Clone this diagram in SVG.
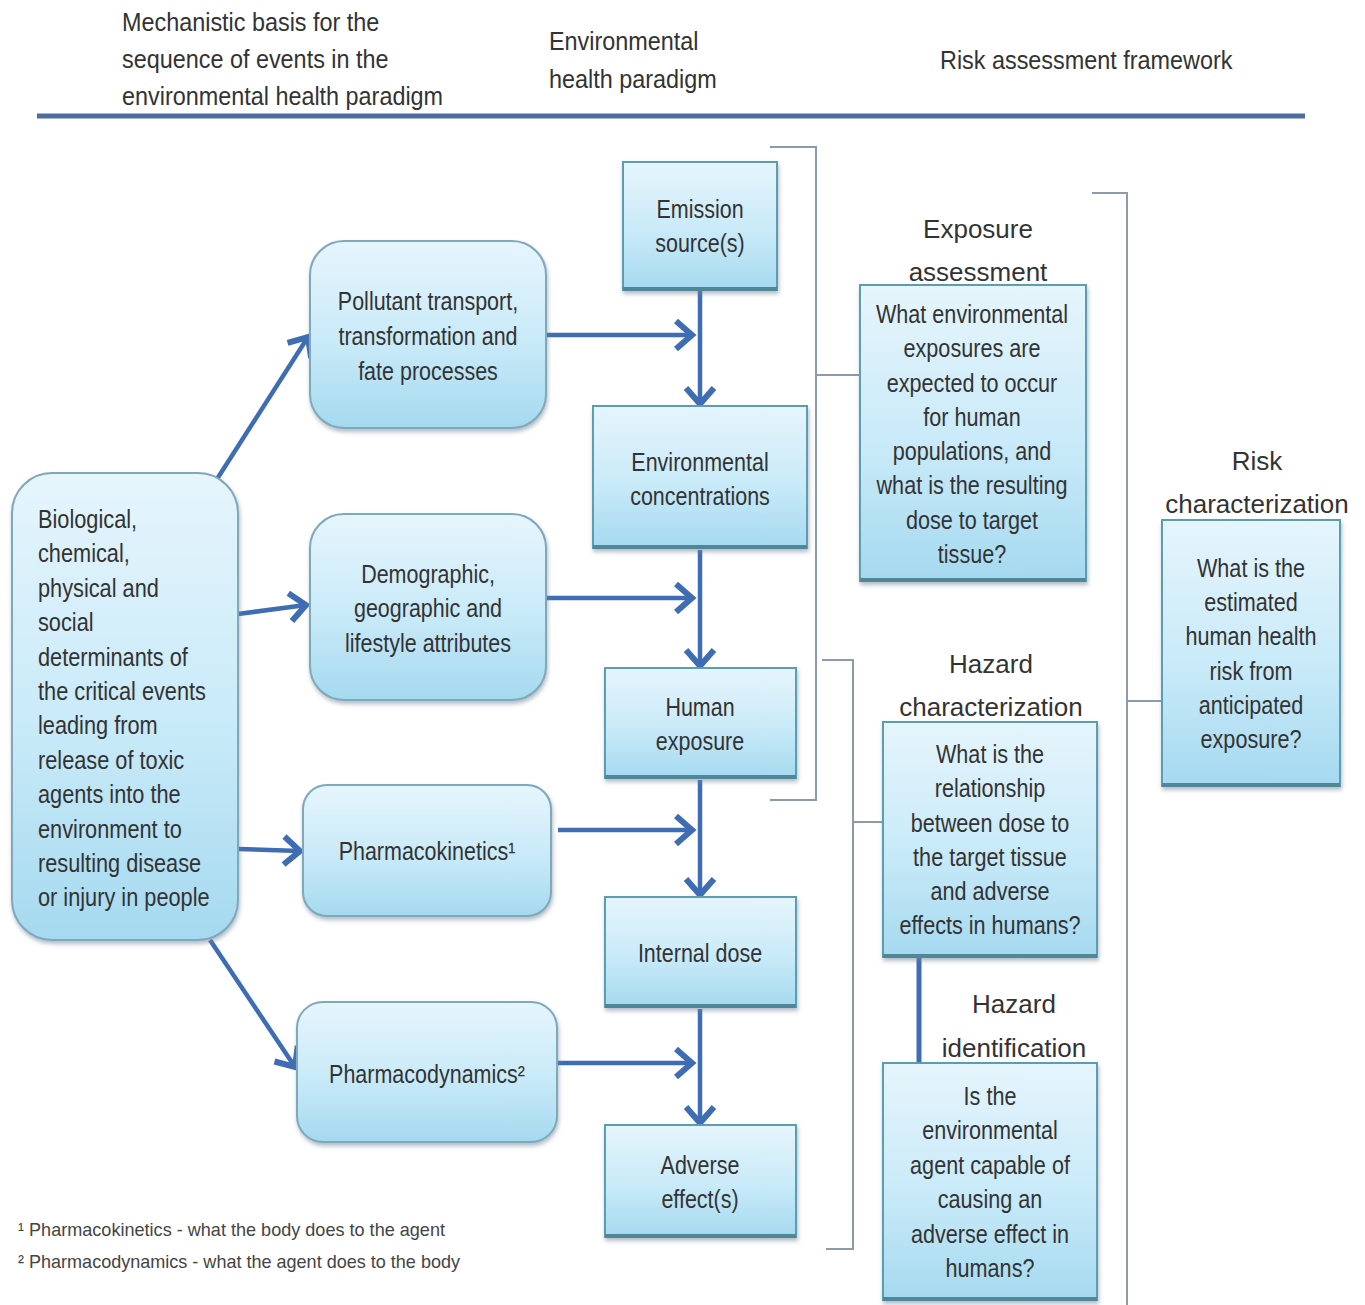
<svg xmlns="http://www.w3.org/2000/svg" width="1365" height="1305" viewBox="0 0 1365 1305">
  <defs>
    <linearGradient id="fillBlue" x1="0" y1="0" x2="0" y2="1">
      <stop offset="0" stop-color="#e6f5fc"/>
      <stop offset="0.55" stop-color="#c8eaf8"/>
      <stop offset="1" stop-color="#a5d9ef"/>
    </linearGradient>
    <filter id="soft" x="-10%" y="-10%" width="120%" height="125%">
      <feDropShadow dx="1" dy="3" stdDeviation="2" flood-color="#6f8596" flood-opacity="0.55"/>
    </filter>
    <marker id="chev" viewBox="-24 -20 32 40" refX="0" refY="0" markerWidth="32" markerHeight="40" markerUnits="userSpaceOnUse" orient="auto">
      <path d="M-16,-14 L0,0 L-16,14" fill="none" stroke="#3f6db3" stroke-width="6"/>
    </marker>
    <style>
      .round { fill: url(#fillBlue); stroke: #7fa8bb; stroke-width: 2; filter: url(#soft); }
      .sq { fill: url(#fillBlue); stroke: #5d9db2; stroke-width: 2; filter: url(#soft); }
      .sqbase { fill: none; stroke: #4f8799; stroke-width: 4; }
      .bx { font-family: "Liberation Sans", Arial, sans-serif; font-size: 25px; fill: #333333; }
      .hd { font-family: "Liberation Sans", Arial, sans-serif; font-size: 26px; fill: #333333; }
      .ttl { font-family: "Liberation Sans", Arial, sans-serif; font-size: 26px; fill: #333333; text-anchor: middle; }
      .fn { font-family: "Liberation Sans", Arial, sans-serif; font-size: 19px; fill: #444444; }
      .arrow { fill: none; stroke: #3f6db3; stroke-width: 4.5; marker-end: url(#chev); }
      .link { fill: none; stroke: #3f6db3; stroke-width: 5; }
      .brk { fill: none; stroke: #8c9aab; stroke-width: 2; }
    </style>
  </defs>

  <rect width="1365" height="1305" fill="#ffffff"/>

  <!-- column headings -->
  <g id="headings">
    <text class="hd" transform="translate(122,31) scale(0.9,1)"><tspan x="0" dy="0">Mechanistic basis for the</tspan><tspan x="0" dy="37">sequence of events in the</tspan><tspan x="0" dy="37">environmental health paradigm</tspan></text>
    <text class="hd" transform="translate(549,50) scale(0.9,1)"><tspan x="0" dy="0">Environmental</tspan><tspan x="0" dy="38">health paradigm</tspan></text>
    <text class="hd" transform="translate(940,69) scale(0.9,1)">Risk assessment framework</text>
    <line x1="37" y1="116" x2="1305" y2="116" stroke="#4a6e9e" stroke-width="5"/>
  </g>

  <!-- connectors -->
  <g id="connectors">
    <!-- determinants to mechanisms -->
    <line class="arrow" x1="210" y1="490" x2="308" y2="337"/>
    <line class="arrow" x1="238" y1="614" x2="306" y2="605"/>
    <line class="arrow" x1="238" y1="849" x2="300" y2="851"/>
    <line class="arrow" x1="210" y1="940" x2="295" y2="1067"/>
    <!-- mechanisms into paradigm chain -->
    <line class="arrow" x1="546" y1="335" x2="692" y2="335"/>
    <line class="arrow" x1="546" y1="598" x2="692" y2="598"/>
    <line class="arrow" x1="558" y1="830" x2="692" y2="830"/>
    <line class="arrow" x1="558" y1="1063" x2="692" y2="1063"/>
    <!-- paradigm chain -->
    <line class="arrow" x1="700" y1="291" x2="700" y2="404"/>
    <line class="arrow" x1="700" y1="550" x2="700" y2="666"/>
    <line class="arrow" x1="700" y1="780" x2="700" y2="895"/>
    <line class="arrow" x1="700" y1="1009" x2="700" y2="1123"/>
    <!-- hazard characterization to identification -->
    <line class="link" x1="919" y1="958" x2="919" y2="1063"/>
    <!-- brackets -->
    <path class="brk" d="M770,147 H816 V800 H770 M816,375 H860"/>
    <path class="brk" d="M822,660 H853 V1249 H826 M853,822 H884"/>
    <path class="brk" d="M1092,193 H1127 V1305 M1127,701 H1162"/>
  </g>

  <!-- determinants -->
  <g id="determinants">
    <rect class="round" x="12" y="473" width="226" height="467" rx="40"/>
    <text class="bx" transform="translate(38,528) scale(0.87,1)"><tspan x="0" dy="0">Biological,</tspan><tspan x="0" dy="34.4">chemical,</tspan><tspan x="0" dy="34.4">physical and</tspan><tspan x="0" dy="34.4">social</tspan><tspan x="0" dy="34.4">determinants of</tspan><tspan x="0" dy="34.4">the critical events</tspan><tspan x="0" dy="34.4">leading from</tspan><tspan x="0" dy="34.4">release of toxic</tspan><tspan x="0" dy="34.4">agents into the</tspan><tspan x="0" dy="34.4">environment to</tspan><tspan x="0" dy="34.4">resulting disease</tspan><tspan x="0" dy="34.4">or injury in people</tspan></text>
  </g>

  <g id="pollutant-transport">
    <rect class="round" x="310" y="241" width="236" height="187" rx="34"/>
    <text class="bx" text-anchor="middle" transform="translate(428,310) scale(0.86,1)"><tspan x="0" dy="0">Pollutant transport,</tspan><tspan x="0" dy="35">transformation and</tspan><tspan x="0" dy="35">fate processes</tspan></text>
  </g>

  <g id="attributes">
    <rect class="round" x="310" y="514" width="236" height="186" rx="34"/>
    <text class="bx" text-anchor="middle" transform="translate(428,583) scale(0.86,1)"><tspan x="0" dy="0">Demographic,</tspan><tspan x="0" dy="34.5">geographic and</tspan><tspan x="0" dy="34.5">lifestyle attributes</tspan></text>
  </g>

  <g id="pharmacokinetics">
    <rect class="round" x="303" y="785" width="248" height="131" rx="24"/>
    <text class="bx" text-anchor="middle" transform="translate(427,860) scale(0.86,1)">Pharmacokinetics¹</text>
  </g>

  <g id="pharmacodynamics">
    <rect class="round" x="297" y="1002" width="260" height="140" rx="26"/>
    <text class="bx" text-anchor="middle" transform="translate(427,1083) scale(0.86,1)">Pharmacodynamics²</text>
  </g>

  <!-- environmental health paradigm -->
  <g id="emission-source">
    <rect class="sq" x="623" y="162" width="154" height="128"/>
    <line class="sqbase" x1="623" y1="289" x2="777" y2="289"/>
    <text class="bx" text-anchor="middle" transform="translate(700,218) scale(0.86,1)"><tspan x="0" dy="0">Emission</tspan><tspan x="0" dy="34">source(s)</tspan></text>
  </g>

  <g id="environmental-concentrations">
    <rect class="sq" x="593" y="406" width="214" height="142"/>
    <line class="sqbase" x1="593" y1="547" x2="807" y2="547"/>
    <text class="bx" text-anchor="middle" transform="translate(700,471) scale(0.86,1)"><tspan x="0" dy="0">Environmental</tspan><tspan x="0" dy="34">concentrations</tspan></text>
  </g>

  <g id="human-exposure">
    <rect class="sq" x="605" y="668" width="191" height="110"/>
    <line class="sqbase" x1="605" y1="777" x2="796" y2="777"/>
    <text class="bx" text-anchor="middle" transform="translate(700,716) scale(0.86,1)"><tspan x="0" dy="0">Human</tspan><tspan x="0" dy="34">exposure</tspan></text>
  </g>

  <g id="internal-dose">
    <rect class="sq" x="605" y="897" width="191" height="110"/>
    <line class="sqbase" x1="605" y1="1006" x2="796" y2="1006"/>
    <text class="bx" text-anchor="middle" transform="translate(700,962) scale(0.86,1)">Internal dose</text>
  </g>

  <g id="adverse-effects">
    <rect class="sq" x="605" y="1125" width="191" height="112"/>
    <line class="sqbase" x1="605" y1="1236" x2="796" y2="1236"/>
    <text class="bx" text-anchor="middle" transform="translate(700,1174) scale(0.86,1)"><tspan x="0" dy="0">Adverse</tspan><tspan x="0" dy="34">effect(s)</tspan></text>
  </g>

  <!-- risk assessment framework -->
  <g id="exposure-assessment">
    <text class="ttl" x="978" y="238">Exposure</text>
    <text class="ttl" x="978" y="281">assessment</text>
    <rect class="sq" x="860" y="285" width="226" height="296"/>
    <line class="sqbase" x1="860" y1="580" x2="1086" y2="580"/>
    <text class="bx" text-anchor="middle" transform="translate(972,323) scale(0.865,1)"><tspan x="0" dy="0">What environmental</tspan><tspan x="0" dy="34.3">exposures are</tspan><tspan x="0" dy="34.3">expected to occur</tspan><tspan x="0" dy="34.3">for human</tspan><tspan x="0" dy="34.3">populations, and</tspan><tspan x="0" dy="34.3">what is the resulting</tspan><tspan x="0" dy="34.3">dose to target</tspan><tspan x="0" dy="34.3">tissue?</tspan></text>
  </g>

  <g id="hazard-characterization">
    <text class="ttl" x="991" y="673">Hazard</text>
    <text class="ttl" x="991" y="716">characterization</text>
    <rect class="sq" x="883" y="722" width="214" height="235"/>
    <line class="sqbase" x1="883" y1="956" x2="1097" y2="956"/>
    <text class="bx" text-anchor="middle" transform="translate(990,763) scale(0.865,1)"><tspan x="0" dy="0">What is the</tspan><tspan x="0" dy="34.3">relationship</tspan><tspan x="0" dy="34.3">between dose to</tspan><tspan x="0" dy="34.3">the target tissue</tspan><tspan x="0" dy="34.3">and adverse</tspan><tspan x="0" dy="34.3">effects in humans?</tspan></text>
  </g>

  <g id="hazard-identification">
    <text class="ttl" x="1014" y="1013">Hazard</text>
    <text class="ttl" x="1014" y="1057">identification</text>
    <rect class="sq" x="883" y="1063" width="214" height="237"/>
    <line class="sqbase" x1="883" y1="1299" x2="1097" y2="1299"/>
    <text class="bx" text-anchor="middle" transform="translate(990,1105) scale(0.865,1)"><tspan x="0" dy="0">Is the</tspan><tspan x="0" dy="34.4">environmental</tspan><tspan x="0" dy="34.4">agent capable of</tspan><tspan x="0" dy="34.4">causing an</tspan><tspan x="0" dy="34.4">adverse effect in</tspan><tspan x="0" dy="34.4">humans?</tspan></text>
  </g>

  <g id="risk-characterization">
    <text class="ttl" x="1257" y="470">Risk</text>
    <text class="ttl" x="1257" y="513">characterization</text>
    <rect class="sq" x="1162" y="520" width="178" height="266"/>
    <line class="sqbase" x1="1162" y1="785" x2="1340" y2="785"/>
    <text class="bx" text-anchor="middle" transform="translate(1251,577) scale(0.865,1)"><tspan x="0" dy="0">What is the</tspan><tspan x="0" dy="34.2">estimated</tspan><tspan x="0" dy="34.2">human health</tspan><tspan x="0" dy="34.2">risk from</tspan><tspan x="0" dy="34.2">anticipated</tspan><tspan x="0" dy="34.2">exposure?</tspan></text>
  </g>

  <!-- footnotes -->
  <g id="footnotes">
    <text class="fn" x="18" y="1236" textLength="427" lengthAdjust="spacingAndGlyphs">¹ Pharmacokinetics - what the body does to the agent</text>
    <text class="fn" x="18" y="1268" textLength="442" lengthAdjust="spacingAndGlyphs">² Pharmacodynamics - what the agent does to the body</text>
  </g>
</svg>
